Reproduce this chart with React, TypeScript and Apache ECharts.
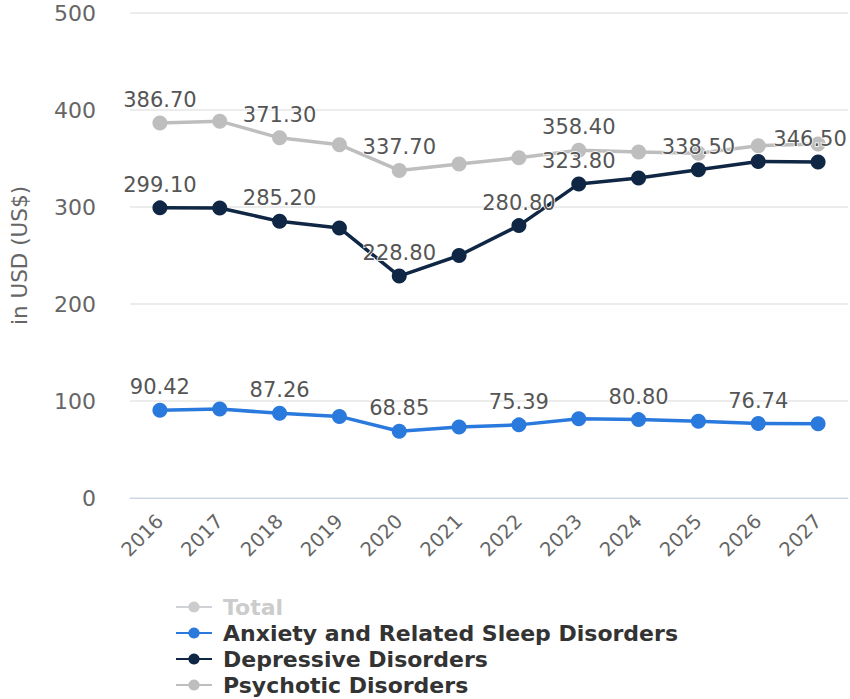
import React, { useEffect, useRef } from "react";
import * as echarts from "echarts";

// Years on the category axis
const years = ["2016", "2017", "2018", "2019", "2020", "2021", "2022", "2023", "2024", "2025", "2026", "2027"];

// Spending per segment, in USD
const anxietyValues = [90.42, 91.8, 87.26, 84.1, 68.85, 73.2, 75.39, 81.8, 80.8, 79.0, 76.74, 76.6];
const depressiveValues = [299.1, 299.0, 285.2, 278.4, 228.8, 250.0, 280.8, 323.8, 329.9, 338.5, 347.0, 346.5];
const psychoticValues = [386.7, 388.5, 371.3, 364.2, 337.7, 344.3, 350.8, 358.4, 356.7, 355.5, 363.2, 365.0];
// Total is switched off in the legend, so it carries no plotted points
const totalValues: number[] = [];

// Years whose value label is printed on each line
const anxietyLabelYears = ["2016", "2018", "2020", "2022", "2024", "2026"];
const depressiveLabelYears = ["2016", "2018", "2020", "2022", "2023", "2025", "2027"];
const psychoticLabelYears = ["2016", "2018", "2020", "2023"];

const yTicks = { min: 0, max: 500, interval: 100 };

const FONT = "DejaVu Sans";

const withLabels = (values: number[], labelYears: string[]) =>
  values.map((v, i) => {
    const show = labelYears.includes(years[i]);
    const last = i === values.length - 1;
    // the label of the final point is nudged left so it stays inside the canvas
    return { value: v, label: last ? { show, offset: [-8, 0] } : { show } };
  });

const lineSeries = (name: string, color: string, data: any[]) => ({
  name,
  type: "line",
  data,
  symbol: "circle",
  symbolSize: 15,
  color,
  lineStyle: { width: 3.5, color },
  itemStyle: { color },
  label: {
    show: false,
    position: "top",
    distance: 5,
    fontFamily: FONT,
    fontSize: 21,
    color: "#555555",
    textBorderColor: "#ffffff",
    textBorderWidth: 1.5,
    formatter: (p: any) => Number(p.value).toFixed(2),
  },
  emphasis: { disabled: true },
});

export default function App() {
  const ref = useRef<HTMLDivElement>(null);

  useEffect(() => {
    document.body.style.margin = "0";
    if (!ref.current) return;
    const chart = echarts.init(ref.current, undefined, { renderer: "svg" });
    chart.setOption({
      animation: false,
      backgroundColor: "#ffffff",
      grid: { left: 125, right: 2, top: 13, bottom: 201 },
      legend: {
        orient: "vertical",
        left: 175,
        top: 596,
        height: 110,
        padding: 0,
        itemWidth: 36,
        itemHeight: 14,
        itemGap: 4,
        inactiveColor: "#cccccc",
        selected: { Total: false },
        data: ["Total", "Anxiety and Related Sleep Disorders", "Depressive Disorders", "Psychotic Disorders"],
        textStyle: {
          fontFamily: FONT,
          fontSize: 22,
          fontWeight: "bold",
          color: "#333333",
          lineHeight: 22,
          padding: [0, 0, 0, 6],
        },
      },
      xAxis: {
        type: "category",
        data: years,
        boundaryGap: true,
        axisLine: { lineStyle: { color: "#ccd6eb", width: 1 } },
        axisTick: { show: false },
        axisLabel: {
          rotate: 45,
          margin: 20,
          interval: 0,
          fontFamily: FONT,
          fontSize: 19.5,
          color: "#666666",
        },
      },
      yAxis: {
        type: "value",
        ...yTicks,
        name: "in USD (US$)",
        nameLocation: "middle",
        nameGap: 100,
        nameTextStyle: { fontFamily: FONT, fontSize: 21.5, color: "#666666" },
        axisLine: { show: false },
        axisTick: { show: false },
        splitLine: { lineStyle: { color: "#e6e6e6", width: 1.5 } },
        axisLabel: { margin: 34, fontFamily: FONT, fontSize: 22, color: "#666666" },
      },
      series: [
        lineSeries("Total", "#c8c8c8", totalValues),
        lineSeries("Anxiety and Related Sleep Disorders", "#2a79dd", withLabels(anxietyValues, anxietyLabelYears)),
        lineSeries("Depressive Disorders", "#0f2744", withLabels(depressiveValues, depressiveLabelYears)),
        lineSeries("Psychotic Disorders", "#bebebe", withLabels(psychoticValues, psychoticLabelYears)),
      ],
    });
    return () => chart.dispose();
  }, []);

  return <div ref={ref} style={{ width: 850, height: 699 }} />;
}
